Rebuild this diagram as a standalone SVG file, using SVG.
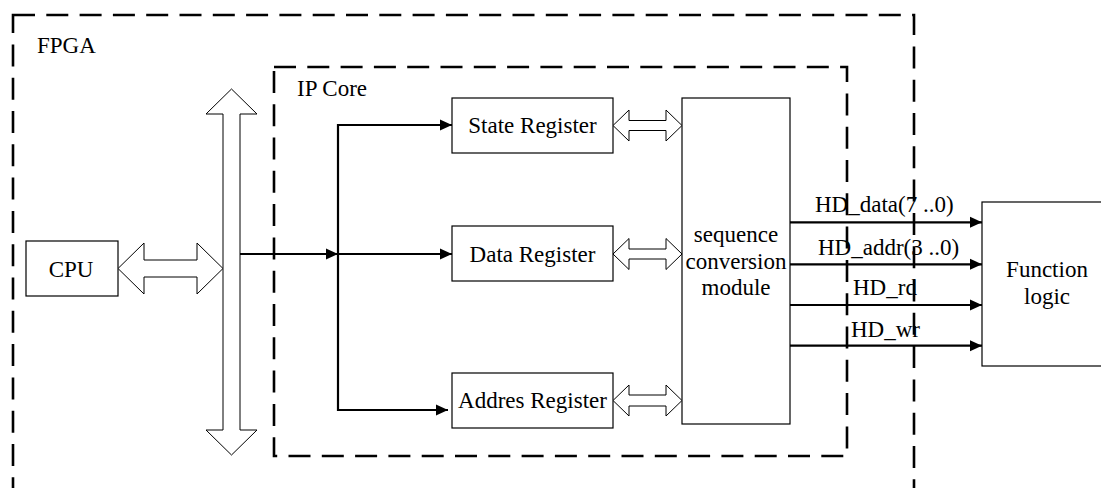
<svg xmlns="http://www.w3.org/2000/svg" width="1101" height="488" viewBox="0 0 1101 488" font-family="'Liberation Serif', 'Times New Roman', 'DejaVu Serif', serif">
<style>
text{font-family:'Liberation Serif','Times New Roman','DejaVu Serif',serif;font-size:23px;fill:#000}
.box{fill:#fff;stroke:#000;stroke-width:1.2}
.dbl{fill:#fff;stroke:#000;stroke-width:1}
.dash{fill:none;stroke:#000;stroke-width:2.6;stroke-dasharray:22 11.3}
.ln{fill:none;stroke:#000;stroke-width:2.2}
.mid{text-anchor:middle}
</style>
<defs>
<marker id="ah" markerUnits="userSpaceOnUse" markerWidth="12" markerHeight="12" viewBox="0 0 12 12" refX="12" refY="6" orient="auto">
<path d="M0,0.5 L12,6 L0,11.5 Z" fill="#000"/>
</marker>
</defs>
<rect width="1101" height="488" fill="#fff"/>
<g id="fpga-label"><text x="37" y="53">FPGA</text></g>
<g id="ipcore-label"><text x="297" y="96">IP Core</text></g>
<g id="cpu"><rect class="box" x="26" y="241" width="92" height="55"/><text class="mid" x="71" y="276.5">CPU</text></g>
<g id="bus"><polygon class="dbl" points="231.5,89 257,114 240,114 240,430 257,430 231.5,455 206,430 223,430 223,114 206,114"/></g>
<g id="cpu-bus"><polygon class="dbl" points="118,268.5 144,243 144,260 197,260 197,243 223,268.5 197,294 197,277 144,277 144,294"/></g>
<g id="state-register"><rect class="box" x="452" y="98" width="161" height="55"/><text class="mid" x="532.5" y="133">State Register</text></g>
<g id="data-register"><rect class="box" x="452" y="226" width="161" height="55"/><text class="mid" x="532.5" y="262">Data Register</text></g>
<g id="addres-register"><rect class="box" x="452" y="373" width="161" height="55"/><text class="mid" x="532.5" y="408">Addres Register</text></g>
<g id="seq-module"><rect class="box" x="682" y="98" width="108" height="326"/>
<text class="mid" x="736" y="242">sequence</text><text class="mid" x="736" y="268.5">conversion</text><text class="mid" x="736" y="295">module</text></g>
<g id="function-logic"><rect class="box" x="982" y="202" width="125" height="164"/>
<text class="mid" x="1047" y="277">Function</text><text class="mid" x="1047" y="304">logic</text></g>
<g id="reg-links">
<polygon class="dbl" points="613,125.5 629,110 629,120.5 666,120.5 666,110 682,125.5 666,141 666,130.5 629,130.5 629,141"/>
<polygon class="dbl" points="613,254 629,238.5 629,249 666,249 666,238.5 682,254 666,269.5 666,259 629,259 629,269.5"/>
<polygon class="dbl" points="613,400.5 629,385 629,395 666,395 666,385 682,400.5 666,416 666,406 629,406 629,416"/>
</g>
<g id="connectors">
<line class="ln" x1="240" y1="254" x2="338" y2="254" marker-end="url(#ah)"/>
<line class="ln" x1="338" y1="124" x2="338" y2="411"/>
<line class="ln" x1="338" y1="125" x2="452" y2="125" marker-end="url(#ah)"/>
<line class="ln" x1="338" y1="254" x2="452" y2="254" marker-end="url(#ah)"/>
<line class="ln" x1="337" y1="410" x2="448" y2="410" marker-end="url(#ah)"/>
<line class="ln" x1="790" y1="222.3" x2="982" y2="222.3" marker-end="url(#ah)"/>
<line class="ln" x1="790" y1="264.3" x2="982" y2="264.3" marker-end="url(#ah)"/>
<line class="ln" x1="790" y1="305" x2="982" y2="305" marker-end="url(#ah)"/>
<line class="ln" x1="790" y1="345.7" x2="982" y2="345.7" marker-end="url(#ah)"/>
</g>
<g id="signal-labels">
<text x="815" y="212">HD_data(7 ..0)</text>
<text x="818" y="255">HD_addr(3 ..0)</text>
<text x="853" y="295">HD_rd</text>
<text x="851" y="337">HD_wr</text>
</g>
<g id="containers">
<rect class="dash" x="274" y="67" width="573" height="389"/>
<rect class="dash" x="13" y="15" width="901" height="490"/>
</g>
</svg>
